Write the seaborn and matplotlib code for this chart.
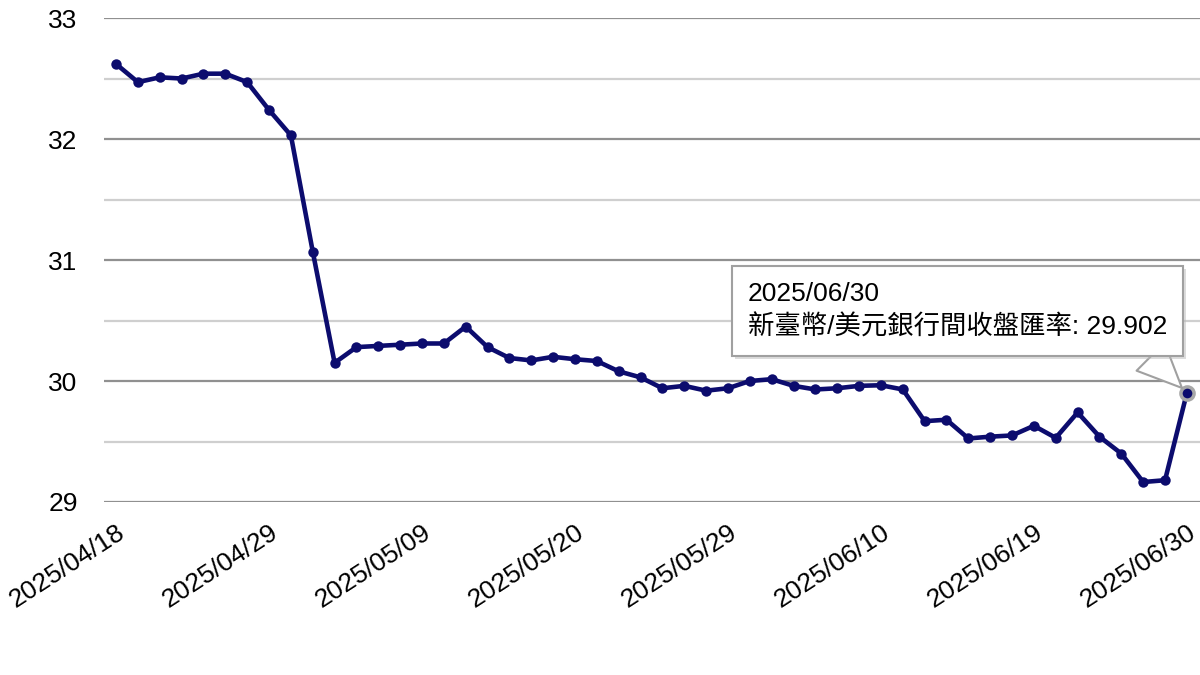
import pandas as pd
import numpy as np
import matplotlib
matplotlib.use("Agg")
import matplotlib.pyplot as plt
import matplotlib.patheffects as pe
import seaborn as sns

# trading days 2025/04/18 - 2025/06/30 (holidays skipped)
dates = [
    "2025/04/18", "2025/04/21", "2025/04/22", "2025/04/23", "2025/04/24",
    "2025/04/25", "2025/04/28", "2025/04/29", "2025/04/30", "2025/05/02",
    "2025/05/05", "2025/05/06", "2025/05/07", "2025/05/08", "2025/05/09",
    "2025/05/12", "2025/05/13", "2025/05/14", "2025/05/15", "2025/05/16",
    "2025/05/19", "2025/05/20", "2025/05/21", "2025/05/22", "2025/05/23",
    "2025/05/26", "2025/05/27", "2025/05/28", "2025/05/29", "2025/06/02",
    "2025/06/03", "2025/06/04", "2025/06/05", "2025/06/06", "2025/06/09",
    "2025/06/10", "2025/06/11", "2025/06/12", "2025/06/13", "2025/06/16",
    "2025/06/17", "2025/06/18", "2025/06/19", "2025/06/20", "2025/06/23",
    "2025/06/24", "2025/06/25", "2025/06/26", "2025/06/27", "2025/06/30",
]
rates = [
    32.62, 32.47, 32.51, 32.50, 32.54, 32.54, 32.47, 32.24, 32.03, 31.07,
    30.15, 30.28, 30.29, 30.30, 30.31, 30.31, 30.45, 30.28, 30.19, 30.17,
    30.20, 30.18, 30.165, 30.08, 30.03, 29.94, 29.96, 29.92, 29.94, 30.00,
    30.015, 29.96, 29.93, 29.94, 29.96, 29.965, 29.93, 29.668, 29.68, 29.525,
    29.54, 29.55, 29.63, 29.53, 29.74, 29.54, 29.40, 29.165, 29.18, 29.902,
]
series_name = "新臺幣/美元銀行間收盤匯率"
y_major = [29, 30, 31, 32, 33]
y_minor = [29.5, 30.5, 31.5, 32.5]
label_step = 7

df = pd.DataFrame({"pos": range(len(dates)), "date": dates, "rate": rates})

sns.set_style("white")
plt.rcParams["font.family"] = ["Liberation Sans", "Noto Sans CJK TC", "DejaVu Sans"]
plt.rcParams["text.color"] = "black"
plt.rcParams["xtick.color"] = "black"
plt.rcParams["ytick.color"] = "black"

fig = plt.figure(figsize=(12, 6.75), dpi=100)
ax = fig.add_axes([0.0867, 0.2563, 0.9133, 0.717])

line_color = "#0c0c6e"
sns.lineplot(data=df, x="pos", y="rate", ax=ax, color=line_color, linewidth=3.3,
             marker="o", markersize=7.5, markeredgewidth=0, zorder=3)

# highlighted last point
last = df.iloc[-1]
ax.scatter([last["pos"]], [last["rate"]], s=90, color=line_color, zorder=4,
           edgecolors="#a8a8a8", linewidths=2.5)

ax.set_ylim(29, 33)
ax.set_xlim(-0.55, len(dates) - 0.4)
ax.set_yticks(y_major)
ax.set_yticks(y_minor, minor=True)
ax.grid(which="major", axis="y", color="#909090", linewidth=1.6)
ax.grid(which="minor", axis="y", color="#cfcfcf", linewidth=1.6)
ax.grid(which="major", axis="x", visible=False)
ax.set_axisbelow(True)

ticks = list(range(0, len(dates), label_step))
ax.set_xticks(ticks)
ax.set_xticklabels([dates[i] for i in ticks], rotation=33, ha="right",
                   rotation_mode="anchor", fontsize=19)
ax.tick_params(axis="x", length=0, pad=13)
ax.tick_params(axis="y", which="both", length=0, pad=19, labelsize=19)
ax.set_xlabel("")
ax.set_ylabel("")
sns.despine(ax=ax, left=True, bottom=True)

# tooltip
ann = ax.annotate(
    f"{last['date']}\n{series_name}: {last['rate']:.3f}",
    xy=(last["pos"], last["rate"]), xytext=(-14, 38), textcoords="offset points",
    ha="right", va="bottom", multialignment="left", fontsize=19, linespacing=1.45,
    bbox=dict(boxstyle="square,pad=0.6", fc="white", ec="#a0a0a0", lw=1.5),
    arrowprops=dict(arrowstyle="wedge,tail_width=1.5", fc="white", ec="#a0a0a0",
                    lw=1.5, relpos=(0.92, 0.0), shrinkA=0, shrinkB=5),
    zorder=5,
)
ann.get_bbox_patch().set_path_effects(
    [pe.SimplePatchShadow(offset=(2, -2), shadow_rgbFace="#bbbbbb", alpha=0.5), pe.Normal()]
)

fig.savefig("out.png", dpi=100)
